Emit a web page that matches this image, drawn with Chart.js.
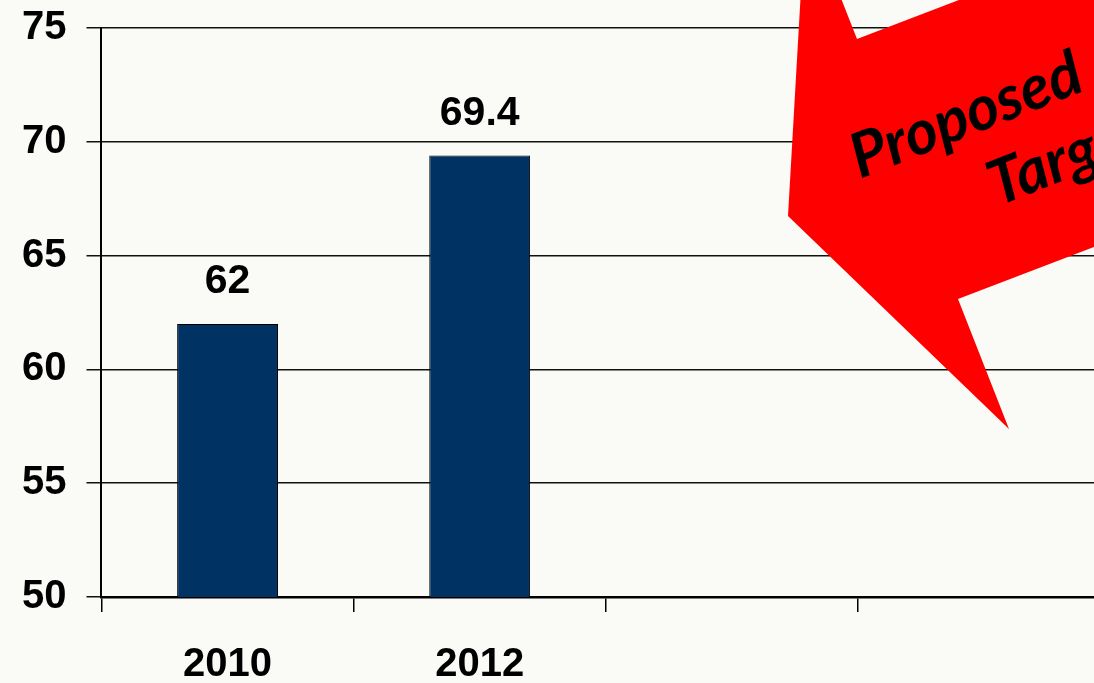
<!DOCTYPE html>
<html>
<head>
<meta charset="utf-8">
<script src="https://cdn.jsdelivr.net/npm/chart.js@4/dist/chart.umd.min.js"></script>
<style>
  html, body { margin: 0; padding: 0; overflow: hidden; background: #fafaf6; }
  #wrap { width: 1120px; height: 699px; margin-top: -16px; }
</style>
</head>
<body>
<div id="wrap"><canvas id="myChart" width="1120" height="699"></canvas></div>
<script>
// chart data
var years = ['2010', '2012', '', ''];
var values = [62, 69.4, null, null];
var yMin = 50, yMax = 75, yStep = 5;
var calloutLines = ['Proposed', 'Target'];

var fontMain = "'Liberation Sans', Arial, sans-serif";

// value labels above bars
var valueLabels = {
    id: 'valueLabels',
    afterDatasetsDraw: function(chart) {
        var ctx = chart.ctx;
        var meta = chart.getDatasetMeta(0);
        ctx.save();
        ctx.font = 'bold 41px ' + fontMain;
        ctx.fillStyle = '#000';
        ctx.textAlign = 'center';
        ctx.textBaseline = 'middle';
        meta.data.forEach(function(bar, i) {
            if (values[i] == null) return;
            ctx.fillText(String(values[i]), bar.x, bar.y - 42);
        });
        ctx.restore();
    }
};

// red wedge callout (decoration from the slide); canvas sits 16px above the page
var callout = {
    id: 'callout',
    afterDraw: function(chart) {
        var ctx = chart.ctx;
        ctx.save();
        ctx.translate(0, 16);
        ctx.fillStyle = '#ff0000';
        ctx.beginPath();
        ctx.moveTo(805, -80);
        ctx.lineTo(788, 216);
        ctx.lineTo(1009, 429);
        ctx.lineTo(958, 299);
        ctx.lineTo(1300, 168);
        ctx.lineTo(1300, -200);
        ctx.lineTo(1100, -54);
        ctx.lineTo(857, 39);
        ctx.lineTo(826, -40);
        ctx.closePath();
        ctx.fill();

        ctx.fillStyle = '#000';
        ctx.font = 'italic bold 62px Lato, sans-serif';
        ctx.textAlign = 'left';
        ctx.textBaseline = 'alphabetic';
        ctx.translate(860, 179);
        ctx.rotate(-21.5 * Math.PI / 180);
        ctx.fillText(calloutLines[0], 0, 0);
        ctx.fillText(calloutLines[1], 118, 76);
        ctx.restore();
    }
};

document.addEventListener('DOMContentLoaded', function() {
    var ctx = document.getElementById('myChart').getContext('2d');
    var myChart = new Chart(ctx, {
        type: 'bar',
        data: {
            labels: years,
            datasets: [{
                data: values,
                backgroundColor: '#003263',
                borderColor: '#000',
                borderWidth: 1,
                borderSkipped: false,
                barPercentage: 0.4,
                categoryPercentage: 1.0
            }]
        },
        options: {
            responsive: false,
            animation: false,
            layout: { padding: { left: 2, top: 4, right: 10, bottom: -35 } },
            plugins: {
                legend: { display: false },
                tooltip: { enabled: false }
            },
            scales: {
                x: {
                    offset: true,
                    grid: {
                        offset: true,
                        drawOnChartArea: false,
                        color: '#000',
                        lineWidth: 1.5,
                        tickLength: 15
                    },
                    border: { color: '#000', width: 2.5 },
                    ticks: {
                        color: '#000',
                        padding: 35,
                        font: { family: fontMain, size: 40, weight: 'bold', lineHeight: 0.9 }
                    }
                },
                y: {
                    min: yMin,
                    max: yMax,
                    grid: {
                        color: '#111',
                        lineWidth: 1.5,
                        tickLength: 15
                    },
                    border: { color: '#000', width: 2 },
                    ticks: {
                        stepSize: yStep,
                        color: '#000',
                        padding: 20,
                        font: { family: fontMain, size: 40, weight: 'bold' }
                    }
                }
            }
        },
        plugins: [valueLabels, callout]
    });
});
</script>
</body>
</html>
